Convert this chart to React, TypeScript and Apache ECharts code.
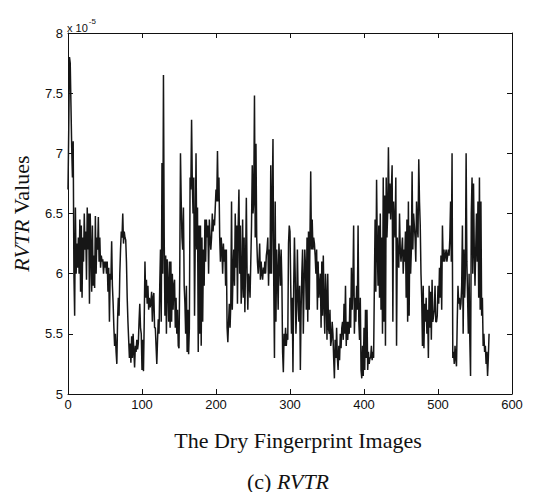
import React, { useEffect, useRef } from "react";
import * as echarts from "echarts";

// RVTR values (x 1e-5), one per image index
const s000 = [
  6.70, 7.20, 7.80, 7.75, 7.40, 7.05, 6.80, 7.10, 6.00, 5.65,
  6.55, 6.00, 6.25, 6.05, 6.30, 6.00, 6.45, 5.85, 6.40, 5.80,
  6.30, 6.10, 6.50, 6.20, 6.35, 5.95, 6.55, 6.20, 6.50, 5.75,
  6.50, 6.20, 5.85, 6.40, 5.90, 6.15, 5.88, 6.48, 6.00, 6.30,
  6.20, 6.47, 6.10, 6.30, 6.05, 6.15, 6.10, 6.12, 6.00, 6.10,
  6.05, 6.10, 6.00, 6.10, 5.85, 6.05, 5.60, 6.00, 5.95, 6.27,
  5.90, 5.75, 5.55, 5.40, 5.50, 5.35, 5.25, 5.62, 5.80, 5.65,
  6.00, 6.20, 6.35, 6.30, 6.50, 6.25, 6.35, 6.30, 6.28, 6.10,
  5.80, 5.60, 5.45, 5.30, 5.42, 5.26, 5.48, 5.30, 5.50, 5.35,
  5.22, 5.40, 5.35, 5.45, 5.37, 5.42, 5.60, 5.75, 5.55, 5.50,
];
const s100 = [
  5.20, 5.45, 5.19, 5.60, 6.10, 5.80, 5.95, 5.75, 5.90, 5.70,
  5.80, 5.72, 5.76, 5.85, 5.60, 5.80, 5.84, 5.55, 5.55, 5.40,
  5.25, 5.45, 5.62, 5.50, 5.90, 6.20, 5.60, 6.92, 6.00, 7.65,
  6.30, 5.65, 6.15, 5.50, 6.12, 5.90, 5.60, 6.10, 5.55, 6.10,
  5.60, 6.00, 5.70, 5.90, 5.95, 5.55, 5.80, 5.50, 5.70, 5.40,
  5.38, 6.00, 7.00, 6.60, 6.30, 6.20, 6.55, 5.90, 5.75, 5.50,
  5.90, 5.35, 5.70, 5.33, 5.55, 6.80, 6.70, 7.28, 6.75, 6.50,
  6.80, 5.65, 6.30, 7.00, 6.20, 6.55, 5.35, 6.40, 5.50, 6.40,
  5.40, 6.30, 5.60, 6.20, 5.90, 6.45, 6.10, 6.45, 6.30, 6.40,
  6.00, 6.45, 6.30, 6.20, 6.30, 6.50, 6.35, 6.45, 6.40, 6.55,
];
const s200 = [
  6.70, 6.60, 7.02, 6.60, 6.80, 6.30, 6.10, 6.30, 6.20, 6.00,
  6.25, 6.10, 6.20, 5.90, 6.20, 5.55, 5.43, 5.60, 5.75, 5.55,
  5.75, 6.60, 5.70, 6.00, 6.20, 5.90, 6.50, 6.05, 6.40, 5.75,
  6.40, 6.70, 6.00, 6.40, 5.75, 5.90, 6.45, 5.80, 6.30, 5.68,
  6.10, 6.63, 6.00, 5.70, 6.00, 5.95, 5.80, 6.10, 6.40, 6.90,
  6.50, 6.60, 7.48, 6.30, 7.08, 6.30, 6.10, 6.00, 6.10, 6.25,
  5.95, 6.10, 6.00, 5.95, 6.05, 6.00, 6.10, 6.00, 6.15, 6.20,
  6.30, 5.90, 6.20, 6.00, 6.90, 6.00, 6.60, 7.12, 5.95, 5.30,
  6.60, 5.60, 6.20, 6.00, 5.70, 6.25, 6.10, 5.90, 6.20, 5.95,
  5.35, 5.18, 5.50, 5.40, 5.55, 5.40, 5.50, 5.45, 6.25, 6.40,
];
const s300 = [
  6.35, 5.90, 5.50, 5.80, 5.18, 5.90, 6.30, 6.00, 5.50, 5.70,
  6.20, 5.80, 5.60, 5.90, 5.20, 5.70, 6.00, 6.20, 5.50, 5.90,
  6.20, 6.05, 5.70, 6.30, 5.60, 6.35, 5.70, 6.30, 6.85, 6.20,
  6.45, 6.20, 6.30, 6.25, 6.15, 6.00, 6.20, 5.70, 6.10, 5.80,
  5.90, 6.00, 5.55, 6.10, 5.65, 6.15, 5.75, 5.50, 6.00, 5.80,
  5.45, 6.00, 5.55, 5.50, 5.70, 5.40, 5.45, 5.60, 5.50, 5.30,
  5.13, 5.45, 5.30, 5.55, 5.30, 5.20, 5.40, 5.28, 5.50, 5.38,
  5.55, 5.60, 5.45, 5.75, 5.50, 5.90, 5.40, 5.60, 5.45, 5.60,
  5.50, 5.80, 5.55, 6.05, 5.70, 5.90, 6.40, 5.50, 5.80, 5.60,
  5.90, 5.70, 6.40, 5.60, 5.45, 5.80, 5.20, 5.13, 5.40, 5.15,
];
const s400 = [
  5.55, 5.20, 5.70, 5.30, 5.70, 5.20, 5.35, 5.25, 5.30, 5.30,
  5.40, 5.28, 5.35, 5.30, 5.90, 6.45, 5.85, 6.78, 6.20, 5.90,
  6.40, 5.80, 6.50, 5.70, 6.30, 5.50, 6.80, 5.60, 6.65, 5.40,
  6.80, 6.30, 6.50, 7.05, 6.50, 6.75, 6.45, 6.70, 6.90, 5.60,
  6.60, 6.40, 6.30, 6.80, 5.40, 6.30, 6.10, 6.05, 6.50, 6.20,
  6.10, 6.20, 6.30, 6.00, 6.20, 6.10, 6.35, 5.80, 6.45, 5.60,
  6.60, 5.65, 6.40, 6.00, 6.20, 6.85, 6.20, 6.50, 6.40, 6.30,
  6.10, 6.60, 6.40, 6.30, 6.95, 6.60, 6.40, 6.00, 5.80, 5.40,
  5.90, 5.38, 5.75, 5.60, 5.80, 5.50, 5.70, 5.30, 5.90, 5.55,
  5.85, 5.45, 5.95, 5.60, 5.65, 5.70, 5.90, 5.60, 5.60, 5.65,
];
const s500 = [
  5.90, 5.75, 6.05, 5.80, 6.15, 5.70, 6.40, 6.10, 6.20, 6.10,
  6.15, 6.20, 6.10, 6.15, 6.20, 6.15, 6.30, 6.60, 6.10, 7.00,
  5.30, 5.35, 5.25, 5.40, 5.30, 5.23, 5.60, 5.90, 5.75, 5.80,
  5.70, 5.75, 5.90, 6.40, 5.50, 6.20, 5.80, 6.00, 7.00, 6.10,
  5.80, 5.50, 6.00, 5.45, 5.15, 6.50, 6.80, 6.00, 6.75, 6.20,
  5.90, 6.20, 6.50, 6.10, 6.60, 5.80, 6.80, 5.70, 6.60, 5.65,
  5.80, 5.40, 5.50, 5.35, 5.40, 5.25, 5.35, 5.15, 5.30, 5.50,
];

const xTitle = "The Dry Fingerprint Images";
const yTitleItalic = "RVTR";
const yTitleRest = " Values";
const caption = "RVTR";
const exponentBase = "x 10";
const exponentPower = "-5";

export default function App() {
  const ref = useRef<HTMLDivElement>(null);
  useEffect(() => {
    if (!ref.current) return;
    const chart = echarts.init(ref.current, null, { renderer: "svg" });
    const values = [...s000, ...s100, ...s200, ...s300, ...s400, ...s500];
    const data = values.map((v, i) => [i, v]);
    const serif = "Liberation Serif, Times New Roman, serif";
    const sans = "Liberation Sans, Arial, sans-serif";
    const tickFont = { fontFamily: sans, fontSize: 13, color: "#111" };
    const axisLine = { show: true, onZero: false, lineStyle: { color: "#111", width: 1 } };
    const tick = { show: true, inside: true, length: 5, lineStyle: { color: "#111" } };
    chart.setOption({
      animation: false,
      backgroundColor: "#fff",
      grid: { left: 68, right: 24, top: 33, bottom: 98, containLabel: false },
      xAxis: [
        {
          type: "value",
          min: 0,
          max: 600,
          interval: 100,
          axisLine,
          axisTick: tick,
          splitLine: { show: false },
          axisLabel: { ...tickFont, margin: 4 },
          name: xTitle,
          nameLocation: "middle",
          nameGap: 35,
          nameTextStyle: { fontFamily: serif, fontSize: 22, color: "#111", padding: [0, 0, 0, 16] },
        },
        {
          type: "value",
          position: "top",
          min: 0,
          max: 600,
          interval: 100,
          axisLine,
          axisTick: tick,
          splitLine: { show: false },
          axisLabel: { show: false },
        },
      ],
      yAxis: [
        {
          type: "value",
          min: 5,
          max: 8,
          interval: 0.5,
          axisLine,
          axisTick: tick,
          splitLine: { show: false },
          axisLabel: { ...tickFont, margin: 5 },
          name: `{i|${yTitleItalic}}${yTitleRest}`,
          nameLocation: "middle",
          nameGap: 36,
          nameRotate: 90,
          nameTextStyle: {
            fontFamily: serif,
            fontSize: 22,
            color: "#111",
            rich: {
              i: { fontStyle: "italic", fontFamily: serif, fontSize: 22, color: "#111" },
            },
          },
        },
        {
          type: "value",
          position: "right",
          min: 5,
          max: 8,
          interval: 0.5,
          axisLine,
          axisTick: tick,
          splitLine: { show: false },
          axisLabel: { show: false },
        },
      ],
      graphic: [
        {
          type: "text",
          left: 67,
          top: 17,
          style: {
            text: `{b|${exponentBase}}{s|${exponentPower}}`,
            rich: {
              b: { fontFamily: sans, fontSize: 11, fill: "#111", padding: [8, 0, 0, 0] },
              s: { fontFamily: sans, fontSize: 8, fill: "#111", padding: [0, 0, 6, 1] },
            },
          },
        },
        {
          type: "text",
          left: 247,
          top: 470,
          style: {
            text: `{n|(c) }{i|${caption}}`,
            rich: {
              n: { fontFamily: serif, fontSize: 22, fill: "#111" },
              i: { fontFamily: serif, fontSize: 22, fontStyle: "italic", fill: "#111" },
            },
          },
        },
      ],
      series: [
        {
          type: "line",
          data,
          showSymbol: false,
          symbol: "none",
          lineStyle: { color: "#161616", width: 1.5 },
          silent: true,
        },
      ],
    });
    return () => chart.dispose();
  }, []);
  return <div ref={ref} style={{ position: "fixed", left: 0, top: 0, width: 536, height: 492 }} />;
}
